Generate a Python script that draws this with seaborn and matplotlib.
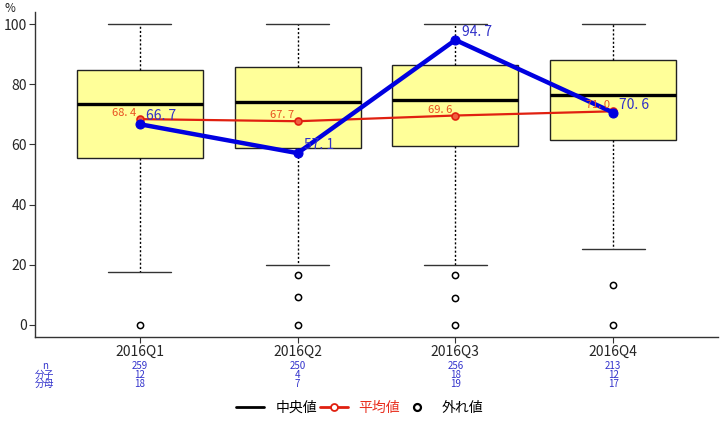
import numpy as np
import matplotlib
matplotlib.use("Agg")
from matplotlib import pyplot as plt
from matplotlib.lines import Line2D
import seaborn as sns

# quarters and box statistics (percent)
quarters = ["2016Q1", "2016Q2", "2016Q3", "2016Q4"]
whisker_low = [17.6, 19.9, 20.0, 25.2]
q1 = [55.6, 58.8, 59.6, 61.6]
medians = [73.5, 74.2, 74.9, 76.3]
q3 = [84.6, 85.6, 86.3, 88.0]
whisker_high = [100, 100, 100, 100]
outliers = [[0], [16.6, 9.2, 0], [16.6, 8.9, 0], [13.2, 0]]

# mean of all facilities (red) and own facility value (blue)
means = [68.4, 67.7, 69.6, 71.0]
own_values = [66.7, 57.1, 94.7, 70.6]

# counts under the axis
n_counts = [259, 250, 256, 213]
numerators = [12, 4, 18, 12]
denominators = [18, 7, 19, 17]

sns.set_theme(style="white")
plt.rcParams["font.family"] = ["Noto Sans CJK JP", "DejaVu Sans"]

fig = plt.figure(figsize=(7.2, 4.22), dpi=100)
ax = fig.add_axes([0.0486, 0.2014, 0.9486, 0.7702])

stats = []
for i, q in enumerate(quarters):
    stats.append({
        "label": q, "whislo": whisker_low[i], "q1": q1[i], "med": medians[i],
        "q3": q3[i], "whishi": whisker_high[i], "fliers": outliers[i],
    })

ax.bxp(stats, positions=range(len(quarters)), widths=0.8, patch_artist=True,
       manage_ticks=False,
       boxprops=dict(facecolor="#FFFF99", edgecolor="#222222", linewidth=1.0),
       medianprops=dict(color="black", linewidth=2.4),
       whiskerprops=dict(color="black", linestyle=(0, (1.5, 1.5)), linewidth=1.0),
       capprops=dict(color="#333333", linewidth=1.0),
       capwidths=0.4,
       flierprops=dict(marker="o", markerfacecolor="white", markeredgecolor="black",
                       markersize=4.5, markeredgewidth=1.1))

x_pos = np.arange(len(quarters))
sns.lineplot(x=x_pos, y=means, ax=ax, color="#E02010", linewidth=1.6, marker="o",
             markersize=5, markerfacecolor="#F06040", markeredgecolor="#E02010",
             markeredgewidth=1.2, zorder=5)
sns.lineplot(x=x_pos, y=own_values, ax=ax, color="#0000E0", linewidth=3.2, marker="o",
             markersize=6.5, markeredgecolor="#0000E0", zorder=6)

for i in range(len(quarters)):
    ax.text(x_pos[i] - 0.02, means[i] + 0.3, f"{means[i]:.1f}".replace(".", ". "),
            color="#E85020", fontsize=8, ha="right", va="bottom", zorder=7)
    ax.text(x_pos[i] + 0.04, own_values[i] + 0.3, f"{own_values[i]:.1f}".replace(".", ". "),
            color="#3030C8", fontsize=10, ha="left", va="bottom", zorder=7)

ax.set_xlim(-0.665, 3.665)
ax.set_ylim(-4, 104)
ax.set_yticks(range(0, 101, 20))
ax.set_xticks(x_pos)
ax.set_xticklabels(quarters)
ax.tick_params(axis="both", labelsize=10, length=4, width=0.8, color="#333333",
               direction="out", left=True, bottom=True, pad=2)
for side in ["top", "right"]:
    ax.spines[side].set_visible(False)
for side in ["left", "bottom"]:
    ax.spines[side].set_color("#333333")
    ax.spines[side].set_linewidth(1.0)
ax.set_xlabel("")
ax.set_ylabel("")

fig.text(0.006, 1 - 8 / 422, "%", fontsize=8.5, color="#222222", ha="left", va="center")

# counts rows under the axis
row_y = [366, 375, 384]
blue = "#3333CC"
for label, yy in zip(["n", "分子", "分母"], row_y):
    fig.text(45 / 720, 1 - yy / 422, label, color=blue, fontsize=7, ha="center", va="center")
for i in range(len(quarters)):
    xf = (35 + (x_pos[i] + 0.665) / 4.33 * 683) / 720
    for val, yy in zip([n_counts[i], numerators[i], denominators[i]], row_y):
        fig.text(xf, 1 - yy / 422, str(val), color=blue, fontsize=7, ha="center", va="center")

handles = [
    Line2D([], [], color="black", linewidth=2),
    Line2D([], [], color="#E02010", linewidth=2, marker="o", markersize=5,
           markerfacecolor="white", markeredgecolor="#E02010", markeredgewidth=1.3),
    Line2D([], [], color="none", marker="o", markersize=5, markerfacecolor="white",
           markeredgecolor="black", markeredgewidth=1.6),
]
leg = fig.legend(handles, ["中央値", "平均値", "外れ値"], loc="center",
                 bbox_to_anchor=(0.5, 1 - 408 / 422), ncol=3, frameon=False,
                 fontsize=10, handlelength=2.0, columnspacing=0.2, handletextpad=0.8)
for txt, col in zip(leg.get_texts(), ["black", "#E83020", "black"]):
    txt.set_color(col)

plt.savefig("out.png", dpi=100)
